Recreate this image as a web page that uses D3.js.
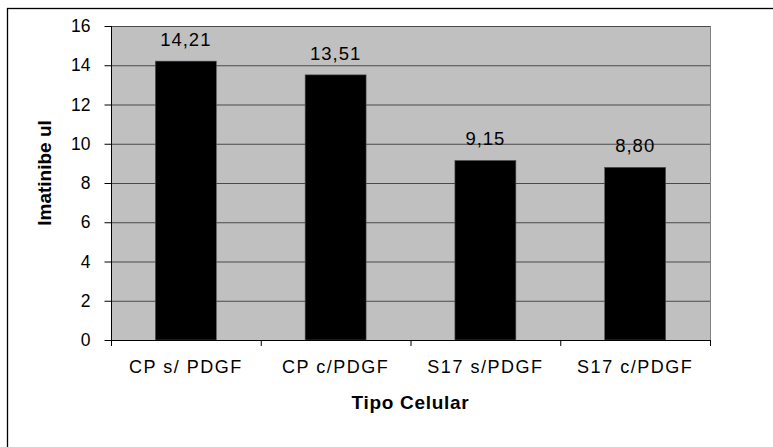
<!DOCTYPE html>
<html>
<head>
<meta charset="utf-8">
<script src="https://cdn.jsdelivr.net/npm/d3@7"></script>
<style>
  html, body { margin: 0; padding: 0; background: #fff; }
  svg { display: block; }
  text { font-family: "Liberation Sans", Arial, sans-serif; fill: #000; }
</style>
</head>
<body>
<svg id="chart" width="773" height="447"></svg>
<script>
// Imatinib volume per cell type
const categories = ["CP s/ PDGF", "CP c/PDGF", "S17 s/PDGF", "S17 c/PDGF"];
const values = [14.21, 13.51, 9.15, 8.80];
const valueLabels = ["14,21", "13,51", "9,15", "8,80"];
const yTicks = [0, 2, 4, 6, 8, 10, 12, 14, 16];

const svg = d3.select("#chart");
const plot = { left: 111, top: 26, right: 710, bottom: 340 };

// outer frame
svg.append("rect")
  .attr("x", 7.5).attr("y", 8.5)
  .attr("width", 800).attr("height", 500)
  .attr("fill", "none").attr("stroke", "#000").attr("stroke-width", 1.3);

const x = d3.scaleBand().domain(categories)
  .range([plot.left, plot.right]).paddingInner(0.593).paddingOuter(0.296);
const xb = d3.scaleBand().domain(categories).range([plot.left, plot.right]);
const y = d3.scaleLinear().domain([0, 16]).range([plot.bottom, plot.top]);

// plot background
svg.append("rect")
  .attr("x", plot.left).attr("y", plot.top)
  .attr("width", plot.right - plot.left).attr("height", plot.bottom - plot.top)
  .attr("fill", "#c0c0c0");

// gridlines
svg.append("g").selectAll("line").data(yTicks.filter(d => d > 0)).join("line")
  .attr("x1", plot.left).attr("x2", plot.right)
  .attr("y1", d => y(d) + 0.5).attr("y2", d => y(d) + 0.5)
  .attr("stroke", "#4a4a4a").attr("stroke-width", 1);

// right edge of plot area
svg.append("line")
  .attr("x1", plot.right + 0.5).attr("x2", plot.right + 0.5)
  .attr("y1", plot.top).attr("y2", plot.bottom)
  .attr("stroke", "#808080");

// bars
svg.append("g").selectAll("rect").data(values).join("rect")
  .attr("x", (d, i) => x(categories[i]))
  .attr("width", x.bandwidth())
  .attr("y", d => y(d))
  .attr("height", d => y(0) - y(d))
  .attr("fill", "#000").attr("stroke", "#555").attr("stroke-width", 0.6);

// value labels
svg.append("g").selectAll("text").data(values).join("text")
  .attr("x", (d, i) => x(categories[i]) + x.bandwidth() / 2)
  .attr("y", d => y(d) - 15)
  .attr("text-anchor", "middle")
  .attr("font-size", 18.5).attr("letter-spacing", 1)
  .text((d, i) => valueLabels[i]);

// y axis
const yAxis = svg.append("g")
  .attr("transform", `translate(${plot.left + 0.5},0)`)
  .call(d3.axisLeft(y).tickValues(yTicks).tickSize(7).tickPadding(14).tickFormat(d3.format("d")));
yAxis.select(".domain").attr("stroke", "#000").attr("d", `M0,${plot.top}V${plot.bottom}`);
yAxis.selectAll(".tick line").attr("stroke", "#000");
yAxis.selectAll(".tick text").attr("font-size", 17.5).attr("font-family", "Liberation Sans, Arial, sans-serif");

// x axis
const xAxis = svg.append("g")
  .attr("transform", `translate(0,${plot.bottom + 0.5})`)
  .call(d3.axisBottom(xb).tickSize(0).tickPadding(20));
xAxis.select(".domain").attr("stroke", "#000").attr("d", `M${plot.left},0H${plot.right}`);
xAxis.selectAll(".tick text").attr("font-size", 18).attr("letter-spacing", 1.5)
  .attr("font-family", "Liberation Sans, Arial, sans-serif");
// category separators
svg.append("g").selectAll("line").data(categories).join("line")
  .attr("x1", d => xb(d) + xb.bandwidth() + 0.5).attr("x2", d => xb(d) + xb.bandwidth() + 0.5)
  .attr("y1", plot.bottom).attr("y2", plot.bottom + 6)
  .attr("stroke", "#000");
svg.append("line")
  .attr("x1", plot.left + 0.5).attr("x2", plot.left + 0.5)
  .attr("y1", plot.bottom).attr("y2", plot.bottom + 6).attr("stroke", "#000");

// axis titles
svg.append("text")
  .attr("x", (plot.left + plot.right) / 2).attr("y", 409)
  .attr("text-anchor", "middle").attr("font-weight", "bold").attr("font-size", 19)
  .attr("letter-spacing", 0.7)
  .text("Tipo Celular");
svg.append("text")
  .attr("transform", `translate(50.5,173) rotate(-90)`)
  .attr("text-anchor", "middle").attr("font-weight", "bold").attr("font-size", 19)
  .text("Imatinibe ul");
</script>
</body>
</html>
